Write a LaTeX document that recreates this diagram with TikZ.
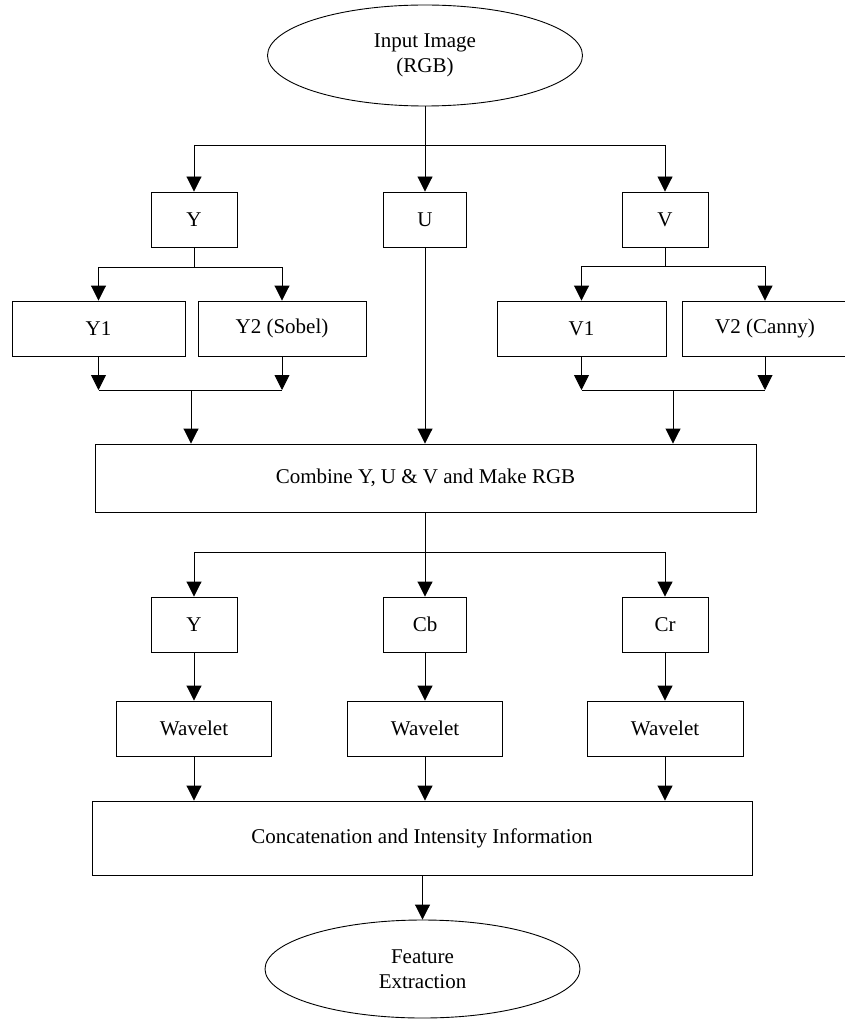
\documentclass[tikz,border=0pt]{standalone}
\usepackage{fontspec}
\setmainfont{Liberation Serif}
\usetikzlibrary{shapes.geometric,arrows.meta}
\begin{document}
\begin{tikzpicture}[x=1pt,y=-1pt,
  every node/.style={font=\fontsize{21}{25}\selectfont, text=black},
  box/.style={draw, line width=0.9pt, inner sep=0pt, align=center},
  oval/.style={draw, ellipse, line width=0.9pt, inner sep=0pt, align=center},
  ln/.style={line width=0.9pt},
  arr/.style={line width=0.9pt, -{Triangle[length=15pt,width=15pt]}}]
\useasboundingbox (0,0) rectangle (844,1019);
% nodes
\node[oval, minimum width=315pt, minimum height=101pt] (in) at (425,55.5) {Input Image\\(RGB)};
\node[box, minimum width=86pt, minimum height=55pt] (Y) at (194,219.5) {Y};
\node[box, minimum width=83pt, minimum height=55pt] (U) at (425,219.5) {U};
\node[box, minimum width=86pt, minimum height=55pt] (V) at (665,219.5) {V};
\node[box, minimum width=173pt, minimum height=55pt] (Y1) at (98.5,328.5) {Y1};
\node[box, minimum width=168pt, minimum height=55pt] (Y2) at (282,328.5) {Y2 (Sobel)};
\node[box, minimum width=169pt, minimum height=55pt] (V1) at (581.5,328.5) {V1};
\node[box, minimum width=166pt, minimum height=55pt] (V2) at (765,328.5) {V2 (Canny)};
\node[box, minimum width=661pt, minimum height=68pt] (C) at (425.5,478) {Combine Y, U \& V and Make RGB};
\node[box, minimum width=86pt, minimum height=55pt] (Yb) at (194,624.5) {Y};
\node[box, minimum width=83pt, minimum height=55pt] (Cb) at (425,624.5) {Cb};
\node[box, minimum width=86pt, minimum height=55pt] (Cr) at (665,624.5) {Cr};
\node[box, minimum width=155pt, minimum height=55pt] (W1) at (194,728.5) {Wavelet};
\node[box, minimum width=155pt, minimum height=55pt] (W2) at (425,728.5) {Wavelet};
\node[box, minimum width=156pt, minimum height=55pt] (W3) at (665,728.5) {Wavelet};
\node[box, minimum width=660pt, minimum height=74pt] (K) at (422,838) {Concatenation and Intensity Information};
\node[oval, minimum width=315pt, minimum height=98pt] (F) at (422.5,969) {Feature\\Extraction};
% junction coordinates
\coordinate (j1) at (425,145);
\coordinate (jY) at (194,267);
\coordinate (jV) at (665,266);
\coordinate (mY) at (191,390);
\coordinate (mV) at (673,390);
\coordinate (j2) at (425,552);
% top split
\draw[ln] (in.south) -- (j1);
\draw[ln] (j1 -| Y.north) -- (j1 -| V.north);
\draw[arr] (j1 -| Y.north) -- (Y.north);
\draw[arr] (j1) -- (U.north);
\draw[arr] (j1 -| V.north) -- (V.north);
% Y split
\draw[ln] (Y.south) -- (jY);
\draw[ln] (jY -| Y1.north) -- (jY -| Y2.north);
\draw[arr] (jY -| Y1.north) -- (Y1.north);
\draw[arr] (jY -| Y2.north) -- (Y2.north);
% V split
\draw[ln] (V.south) -- (jV);
\draw[ln] (jV -| V1.north) -- (jV -| V2.north);
\draw[arr] (jV -| V1.north) -- (V1.north);
\draw[arr] (jV -| V2.north) -- (V2.north);
% Y merge
\draw[arr] (Y1.south) -- (mY -| Y1.south);
\draw[arr] (Y2.south) -- (mY -| Y2.south);
\draw[ln] (mY -| Y1.south) -- (mY -| Y2.south);
\draw[arr] (mY) -- (mY |- C.north);
% V merge
\draw[arr] (V1.south) -- (mV -| V1.south);
\draw[arr] (V2.south) -- (mV -| V2.south);
\draw[ln] (mV -| V1.south) -- (mV -| V2.south);
\draw[arr] (mV) -- (mV |- C.north);
% U
\draw[arr] (U.south) -- (U.south |- C.north);
% second split
\draw[ln] (C.south -| j2) -- (j2);
\draw[ln] (j2 -| Yb.north) -- (j2 -| Cr.north);
\draw[arr] (j2 -| Yb.north) -- (Yb.north);
\draw[arr] (j2) -- (Cb.north);
\draw[arr] (j2 -| Cr.north) -- (Cr.north);
% wavelets
\draw[arr] (Yb.south) -- (W1.north);
\draw[arr] (Cb.south) -- (W2.north);
\draw[arr] (Cr.south) -- (W3.north);
\draw[arr] (W1.south) -- (W1.south |- K.north);
\draw[arr] (W2.south) -- (W2.south |- K.north);
\draw[arr] (W3.south) -- (W3.south |- K.north);
% final
\draw[arr] (K.south -| F.north) -- (F.north);
\end{tikzpicture}
\end{document}
